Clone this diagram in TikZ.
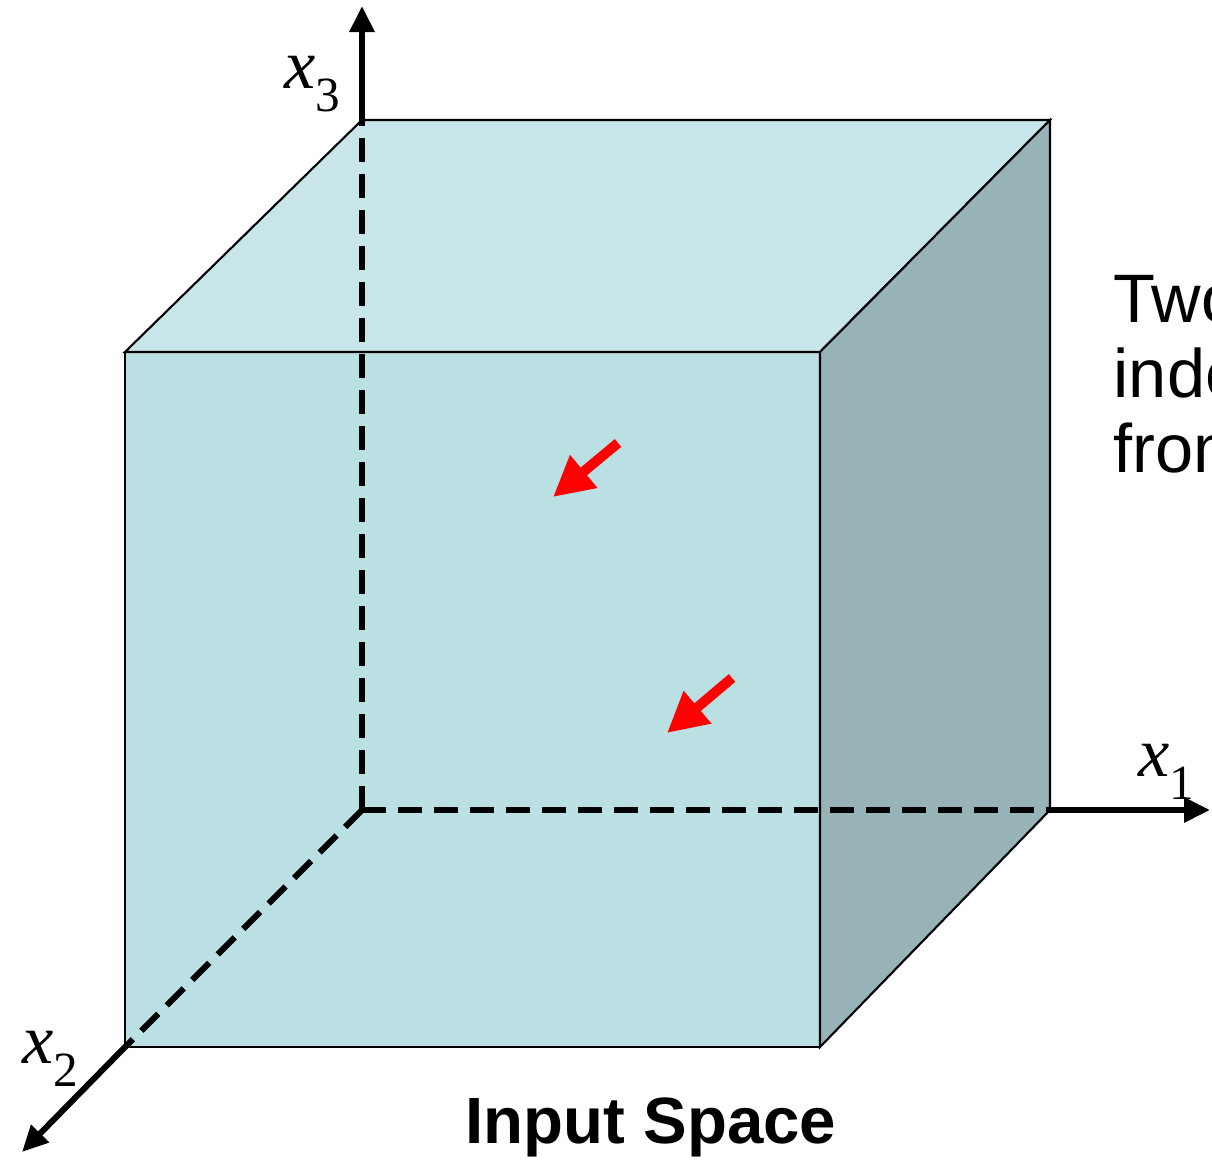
\documentclass[tikz,border=0pt]{standalone}
\usepackage{fontspec}
\setmainfont{Liberation Sans}
\newfontfamily\axisfont{Liberation Serif}
\usetikzlibrary{arrows.meta,calc}
\definecolor{faceFront}{HTML}{BAE0E3}
\definecolor{faceTop}{HTML}{C8E6E9}
\definecolor{faceSide}{HTML}{97B3B7}
\definecolor{pointer}{HTML}{FF0000}
\newcommand{\axisname}[1]{\textit{x}\raisebox{-0.32em}{\fontsize{14}{14}\selectfont #1}}

\begin{document}
\begin{tikzpicture}[
  x=0.01cm, y=-0.01cm,
  face/.style={draw=black, line width=0.6pt, line join=miter},
  axis/.style={line width=0.06cm, black},
  axisdash/.style={axis, dash pattern=on 0.24cm off 0.12cm},
  axisarr/.style={axis, -{Triangle[length=0.26cm,width=0.24cm]}},
  pointarr/.style={line width=0.1cm, pointer, -{Triangle[length=0.4cm,width=0.4cm]}},
  axislabel/.style={font=\axisfont\fontsize{20}{20}\selectfont, inner sep=0pt},
  caption/.style={font=\fontsize{19.5}{22}\selectfont, inner sep=0pt, anchor=base west},
]
\useasboundingbox (0,0) rectangle (1212,1161);

% ── Cube corners ──
\coordinate (FTL) at (125,352);
\coordinate (FTR) at (820,352);
\coordinate (FBL) at (125,1047);
\coordinate (FBR) at (820,1047);
\coordinate (BTL) at (362,120);
\coordinate (BTR) at (1050,120);
\coordinate (BBR) at (1050,810);
\coordinate (O)   at (362,810);

% ── Faces ──
\filldraw[face, fill=faceFront] (FTL) rectangle (FBR);
\filldraw[face, fill=faceTop]   (FTL) -- (BTL) -- (BTR) -- (FTR) -- cycle;
\filldraw[face, fill=faceSide]  (FTR) -- (BTR) -- (BBR) -- (FBR) -- cycle;

% ── Hidden axes (dashed, inside the cube) ──
\draw[axisdash] (O) -- (BTL);
\draw[axisdash] (O) -- (BBR);
\draw[axisdash] (O) -- (FBL);

% ── Visible axes ──
\coordinate (x1end) at (1210,810);
\coordinate (x2end) at (22,1152);
\coordinate (x3end) at (362,6);
\draw[axisarr] (BBR) -- (x1end);
\draw[axisarr] (FBL) -- (x2end);
\draw[axisarr] (BTL) -- (x3end);

\node[axislabel] (lx1) at (1166,772)  {\axisname{1}};
\node[axislabel] (lx2) at (50,1059)   {\axisname{2}};
\node[axislabel] (lx3) at (312,84)    {\axisname{3}};

% ── Two points (red pointers) ──
\coordinate (p1s) at (618,443);
\coordinate (p1e) at (553,497);
\coordinate (p2s) at (732,678);
\coordinate (p2e) at (667,733);
\draw[pointarr] (p1s) -- (p1e);
\draw[pointarr] (p2s) -- (p2e);

% ── Texts (cut by the right edge) ──
\node[caption] (note1) at (1113,323) {Two};
\node[caption] (note2) at (1113,398) {inde};
\node[caption] (note3) at (1113,473) {from};
\node[font=\bfseries\fontsize{18.6}{22}\selectfont, inner sep=0pt] (title) at (651,1127) {Input Space};

\end{tikzpicture}
\end{document}
